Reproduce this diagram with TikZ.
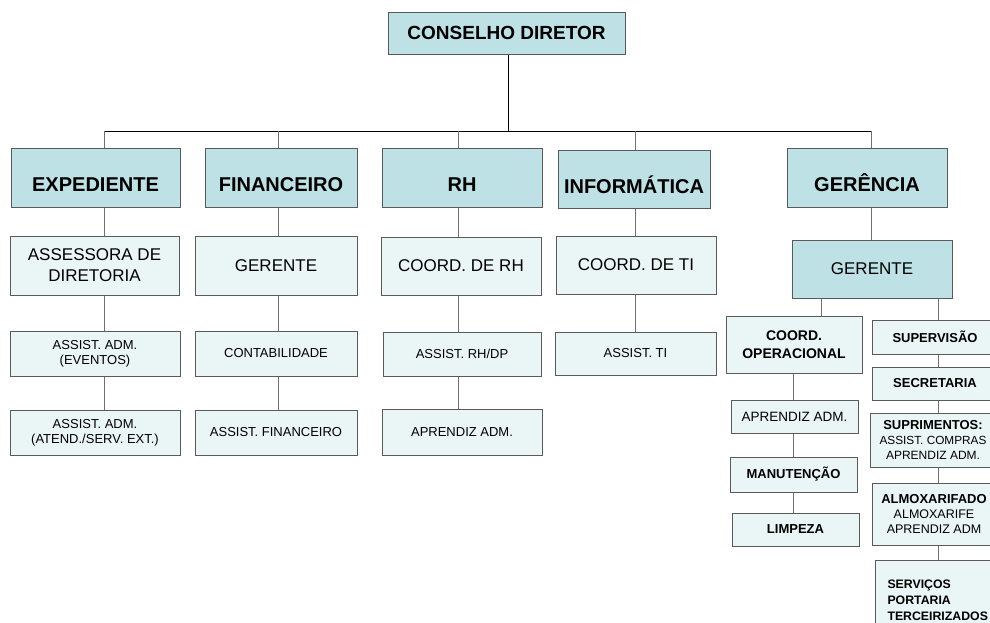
\documentclass[tikz,border=0pt]{standalone}
\usepackage{fontspec}
\setmainfont{Liberation Sans}
\definecolor{tealbox}{HTML}{BDE1E4}
\definecolor{lightbox}{HTML}{EAF5F6}
\definecolor{boxline}{HTML}{5A5A5A}
\definecolor{linkgray}{HTML}{707070}
\tikzset{
	orgbox/.style={draw=boxline, line width=1pt, rectangle, inner sep=0pt, align=center},
	hdrbox/.style={orgbox, fill=tealbox, font=\fontsize{20}{24}\selectfont\bfseries, text height=28pt, text depth=0pt},
	subbox/.style={orgbox, fill=lightbox, font=\fontsize{17}{21}\selectfont},
	itembox/.style={orgbox, fill=lightbox, font=\fontsize{13}{15}\selectfont},
	opbox/.style={orgbox, fill=lightbox, font=\fontsize{13}{15}\selectfont\bfseries},
	link/.style={draw=linkgray, line width=0.9pt},
	buslink/.style={draw=black, line width=0.9pt}
}
\begin{document}
\begin{tikzpicture}[x=1pt, y=-1pt]
				\path[use as bounding box] (0,0) rectangle (990,622);
				\clip (0,0) rectangle (990,622);
				% top
				\node[orgbox, fill=tealbox, font=\fontsize{19}{23}\selectfont\bfseries, minimum width=237, minimum height=42] (CD)at(506.5, 33) {CONSELHO DIRETOR};
				% departments
				\node[hdrbox, minimum width=169, minimum height=59] (EXP)at(95.5, 177.5) {EXPEDIENTE};
				\node[hdrbox, minimum width=152, minimum height=59] (FIN)at(281, 177.5) {FINANCEIRO};
				\node[hdrbox, minimum width=160, minimum height=59] (RH)at(462, 177.5) {RH};
				\node[hdrbox, minimum width=152, minimum height=58] (INF)at(634, 179) {INFORMÁTICA};
				\node[hdrbox, minimum width=160, minimum height=59] (GER)at(867, 177.5) {GERÊNCIA};
				% second row
				\node[subbox, minimum width=169, minimum height=59] (ASS)at(94.5, 265.5) {ASSESSORA DE\\DIRETORIA};
				\node[subbox, minimum width=162, minimum height=59] (GERF)at(276, 265.5) {GERENTE};
				\node[subbox, minimum width=160, minimum height=58] (CRH)at(461, 266) {COORD. DE RH};
				\node[subbox, minimum width=160, minimum height=58] (CTI)at(636, 265) {COORD. DE TI};
				\node[subbox, fill=tealbox, minimum width=160, minimum height=58] (GERG)at(872, 269) {GERENTE};
				% third row
				\node[itembox, minimum width=170, minimum height=45] (EV)at(95, 353.5) {ASSIST. ADM.\\(EVENTOS)};
				\node[itembox, minimum width=162, minimum height=45] (CONT)at(276, 353.5) {CONTABILIDADE};
				\node[itembox, minimum width=158, minimum height=44] (ARH)at(462, 354) {ASSIST. RH/DP};
				\node[itembox, minimum width=161, minimum height=43] (ATI)at(635.5, 353.5) {ASSIST. TI};
				% fourth row
				\node[itembox, minimum width=170, minimum height=45] (AT)at(95, 432.5) {ASSIST. ADM.\\(ATEND./SERV. EXT.)};
				\node[itembox, minimum width=162, minimum height=45] (AFIN)at(276, 432.5) {ASSIST. FINANCEIRO};
				\node[itembox, minimum width=160, minimum height=46] (APRH)at(462, 432) {APRENDIZ ADM.};
				% gerencia, left branch
				\node[opbox, font=\fontsize{14}{18}\selectfont\bfseries, minimum width=136, minimum height=57] (COP)at(794, 344.5) {COORD.\\OPERACIONAL};
				\node[itembox, font=\fontsize{13.5}{16}\selectfont, minimum width=127, minimum height=33] (APR)at(794.5, 416.5) {APRENDIZ ADM.};
				\node[opbox, minimum width=127, minimum height=35] (MAN)at(793.5, 474.5) {MANUTENÇÃO};
				\node[opbox, minimum width=127, minimum height=33] (LIM)at(795.5, 529.5) {LIMPEZA};
				% gerencia, right branch
				\node[opbox, minimum width=126, minimum height=34] (SUP)at(935, 337) {SUPERVISÃO};
				\node[opbox, minimum width=126, minimum height=33] (SEC)at(935, 383.5) {SECRETARIA};
				\node[opbox, minimum width=125, minimum height=54] (SUPR)at(933, 440) {SUPRIMENTOS:\\{\mdseries\fontsize{11.8}{15}\selectfont ASSIST. COMPRAS}\\{\mdseries\fontsize{12}{15}\selectfont APRENDIZ ADM.}};
				\node[opbox, minimum width=124, minimum height=62] (ALM)at(934, 514) {ALMOXARIFADO\\{\mdseries\fontsize{12.5}{15}\selectfont ALMOXARIFE}\\{\mdseries\fontsize{12.5}{15}\selectfont APRENDIZ ADM}};
				\node[opbox, align=left, anchor=west, text width=110pt, inner xsep=12pt, minimum height=80, font=\fontsize{12.3}{16}\selectfont\bfseries] (SERV)at(875, 600) {SERVIÇOS\\PORTARIA\\TERCEIRIZADOS};
				% connectors
				\coordinate (busL) at (104, 131);
				\coordinate (busR) at (871, 131);
				\coordinate (xFin) at (278, 131);
				\coordinate (xRH) at (458, 131);
				\coordinate (xTI) at (635, 131);
				\coordinate (xOp) at (821, 0);
				\coordinate (xAdm) at (938, 0);
				\coordinate (xCop) at (793, 0);
				\draw[buslink] (busL) -- (busR);
				\draw[buslink] (CD.south -| 508,0) -- (busL -| 508,0);
				\draw[link] (busL) -- (busL |- EXP.north);
				\draw[link] (xFin) -- (xFin |- FIN.north);
				\draw[link] (xRH) -- (xRH |- RH.north);
				\draw[link] (xTI) -- (xTI |- INF.north);
				\draw[link] (busR) -- (busR |- GER.north);
				\draw[link] (EXP.south -| busL) -- (ASS.north -| busL);
				\draw[link] (ASS.south -| busL) -- (EV.north -| busL);
				\draw[link] (EV.south -| busL) -- (AT.north -| busL);
				\draw[link] (FIN.south -| xFin) -- (GERF.north -| xFin);
				\draw[link] (GERF.south -| xFin) -- (CONT.north -| xFin);
				\draw[link] (CONT.south -| xFin) -- (AFIN.north -| xFin);
				\draw[link] (RH.south -| xRH) -- (CRH.north -| xRH);
				\draw[link] (CRH.south -| xRH) -- (ARH.north -| xRH);
				\draw[link] (ARH.south -| xRH) -- (APRH.north -| xRH);
				\draw[link] (INF.south -| xTI) -- (CTI.north -| xTI);
				\draw[link] (CTI.south -| xTI) -- (ATI.north -| xTI);
				\draw[link] (GER.south -| busR) -- (GERG.north -| busR);
				\draw[link] (GERG.south -| xOp) -- (COP.north -| xOp);
				\draw[link] (GERG.south -| xAdm) -- (SUP.north -| xAdm);
				\draw[link] (COP.south -| xCop) -- (APR.north -| xCop);
				\draw[link] (APR.south -| xCop) -- (MAN.north -| xCop);
				\draw[link] (MAN.south -| xCop) -- (LIM.north -| xCop);
				\draw[link] (SUP.south -| xAdm) -- (SEC.north -| xAdm);
				\draw[link] (SEC.south -| xAdm) -- (SUPR.north -| xAdm);
				\draw[link] (SUPR.south -| xAdm) -- (ALM.north -| xAdm);
				\draw[link] (ALM.south -| xAdm) -- (SERV.north -| xAdm);
			\end{tikzpicture}
\end{document}
